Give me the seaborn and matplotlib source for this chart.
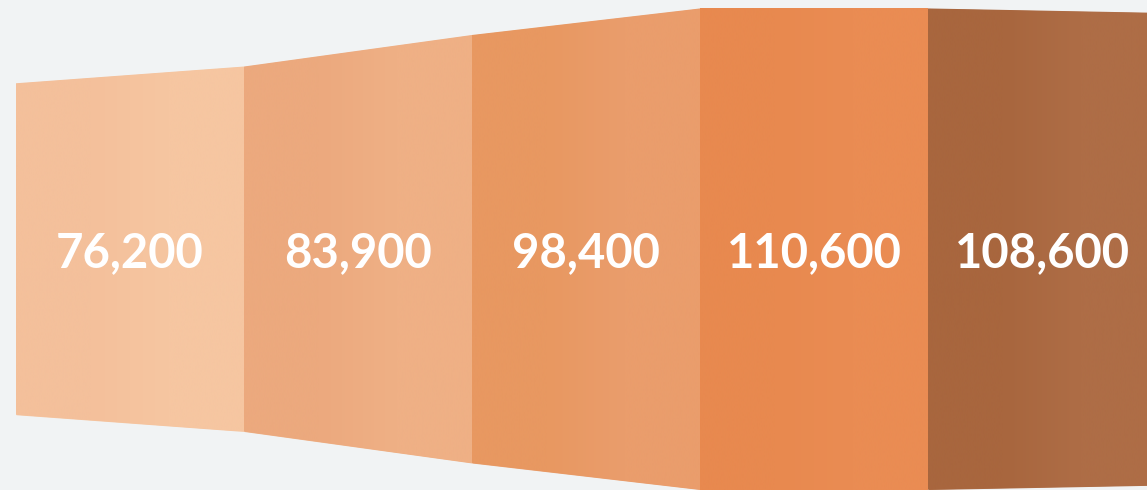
import numpy as np
import pandas as pd
import matplotlib
matplotlib.use("Agg")
import matplotlib.pyplot as plt
import seaborn as sns
from matplotlib.colors import LinearSegmentedColormap

# data
values = [76200, 83900, 98400, 110600, 108600]
labels = ["76,200", "83,900", "98,400", "110,600", "108,600"]
# left / right shade of every segment (darker left face -> lighter right)
colors_left = ["#F4C09B", "#ECA97E", "#E89861", "#E8894F", "#A8663E"]
colors_right = ["#F6C6A1", "#EFB085", "#EA9D6C", "#EA8C53", "#AE6D46"]
bg = "#F1F3F4"

# band height at each segment edge: ends use own value, joints use the larger neighbour
edge_vals = [values[0]]
for a, b in zip(values[:-1], values[1:]):
    edge_vals.append(max(a, b))
edge_vals.append(values[-1])
edge_vals = np.array(edge_vals) / 1000.0
xs = np.arange(len(edge_vals))

df = pd.DataFrame({"x": np.concatenate([xs, xs]),
                   "y": np.concatenate([edge_vals / 2, -edge_vals / 2]),
                   "edge": ["top"] * len(xs) + ["bottom"] * len(xs)})

sns.set_theme(style="white")
plt.rcParams["font.family"] = ["Lato", "DejaVu Sans"]

fig = plt.figure(figsize=(11.47, 4.90), dpi=100)
fig.patch.set_facecolor(bg)
ax = fig.add_axes([0, 0, 1, 1])
ax.set_facecolor(bg)

# outline of the band
sns.lineplot(data=df, x="x", y="y", hue="edge", palette=[bg, bg],
             legend=False, ax=ax, linewidth=0)

for i in range(len(values)):
    x0, x1 = xs[i], xs[i + 1]
    h0, h1 = edge_vals[i], edge_vals[i + 1]
    poly = ax.fill_between([x0, x1], [-h0 / 2, -h1 / 2], [h0 / 2, h1 / 2],
                           color=colors_right[i], linewidth=0)
    cmap = LinearSegmentedColormap.from_list(
        "seg%d" % i, [colors_left[i], colors_left[i], colors_right[i], colors_right[i]])
    grad = np.linspace(0, 1, 256).reshape(1, -1)
    top = max(h0, h1) / 2
    im = ax.imshow(grad, extent=[x0, x1, -top, top], aspect="auto",
                   cmap=cmap, interpolation="bicubic", zorder=2)
    im.set_clip_path(poly.get_paths()[0], transform=ax.transData)
    ax.text((x0 + x1) / 2, -0.9, labels[i], ha="center", va="center",
            color="white", fontsize=34, fontweight="bold", zorder=5)

px_per_unit = 4.35
ax.set_xlim(-16 / 228, (1147 - 16) / 228)
ax.set_ylim(-241 / px_per_unit, 249 / px_per_unit)
ax.set_axis_off()

fig.savefig("out.png", dpi=100, facecolor=bg)
